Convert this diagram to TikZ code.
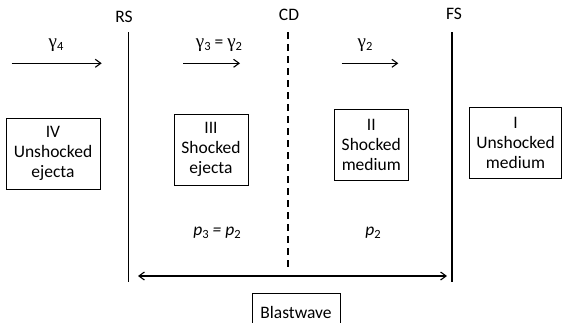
\documentclass[tikz,border=0pt]{standalone}
\usepackage{fontspec}
\setmainfont{Carlito}
\newfontfamily\gfont{Liberation Serif}
\usetikzlibrary{arrows.meta}
\newcommand{\mysub}[1]{\raisebox{-3pt}{\fontsize{12.5}{12.5}\selectfont #1}}
\newcommand{\gam}{{\gfont\fontsize{19}{20}\selectfont γ}}
\tikzset{barb/.tip={Straight Barb[length=5.5pt,width=8pt,line width=1.1pt]}}
\begin{document}
\begin{tikzpicture}[x=1pt,y=-1pt,
  lbl/.style={font=\fontsize{17.5}{20}\selectfont, inner sep=0pt},
  region/.style={draw, line width=0.6pt, align=center, font=\fontsize{17.5}{20}\selectfont, inner sep=0pt},
  front/.style={line width=1.6pt},
  flow/.style={line width=1.1pt, -barb},
]
\useasboundingbox (0,0) rectangle (563,322);
% fronts
\node[lbl] (rs) at (124,17) {RS};
\node[lbl] (cd) at (289,15) {CD};
\node[lbl] (fs) at (454,14) {FS};
\coordinate (rsT) at (128.3,32); \coordinate (rsB) at (128.3,282);
\coordinate (cdT) at (287.8,32); \coordinate (cdB) at (287.8,269);
\coordinate (fsT) at (451.7,32); \coordinate (fsB) at (451.7,282);
\draw[front] (rsT) -- (rsB);
\draw[front, dash pattern=on 7pt off 5pt] (cdT) -- (cdB);
\draw[front] (fsT) -- (fsB);
% flow arrows
\coordinate (a4s) at (11.7,63.3); \coordinate (a4e) at (101.7,63.3);
\coordinate (a3s) at (183,63.3); \coordinate (a3e) at (240,63.3);
\coordinate (a2s) at (341.7,63.3); \coordinate (a2e) at (398.3,63.3);
\draw[flow] (a4s) -- (a4e);
\draw[flow] (a3s) -- (a3e);
\draw[flow] (a2s) -- (a2e);
\node[lbl] (g4) at (56,45) {\gam\mysub{4}};
\node[lbl] (g32) at (219,45) {\gam\mysub{3} = \gam\mysub{2}};
\node[lbl] (g2) at (365,45) {\gam\mysub{2}};
% regions
\node[region, minimum width=94pt, minimum height=71pt] (r4) at (53,153.8) {IV\\Unshocked\\ejecta};
\node[region, minimum width=74pt, minimum height=71pt] (r3) at (211,149.3) {III\\Shocked\\ejecta};
\node[region, minimum width=74pt, minimum height=71pt] (r2) at (371.3,144.7) {II\\Shocked\\medium};
\node[region, minimum width=92.4pt, minimum height=70.6pt] (r1) at (515.5,143) {I\\Unshocked\\medium};
% pressures
\node[lbl] (p32) at (217,233) {\itshape p\mysub{\upshape 3} = p\mysub{\upshape 2}};
\node[lbl] (p2) at (373,233) {\itshape p\mysub{\upshape 2}};
% blastwave
\coordinate (bwL) at (138,276); \coordinate (bwR) at (447,276);
\draw[line width=1.1pt, barb-barb] (bwL) -- (bwR);
\node[draw, line width=0.6pt, font=\fontsize{17.5}{20}\selectfont, text height=12pt, text depth=4pt,
  inner ysep=13pt, minimum width=88pt, anchor=base] (bw) at (296,318) {Blastwave};
\end{tikzpicture}
\end{document}
